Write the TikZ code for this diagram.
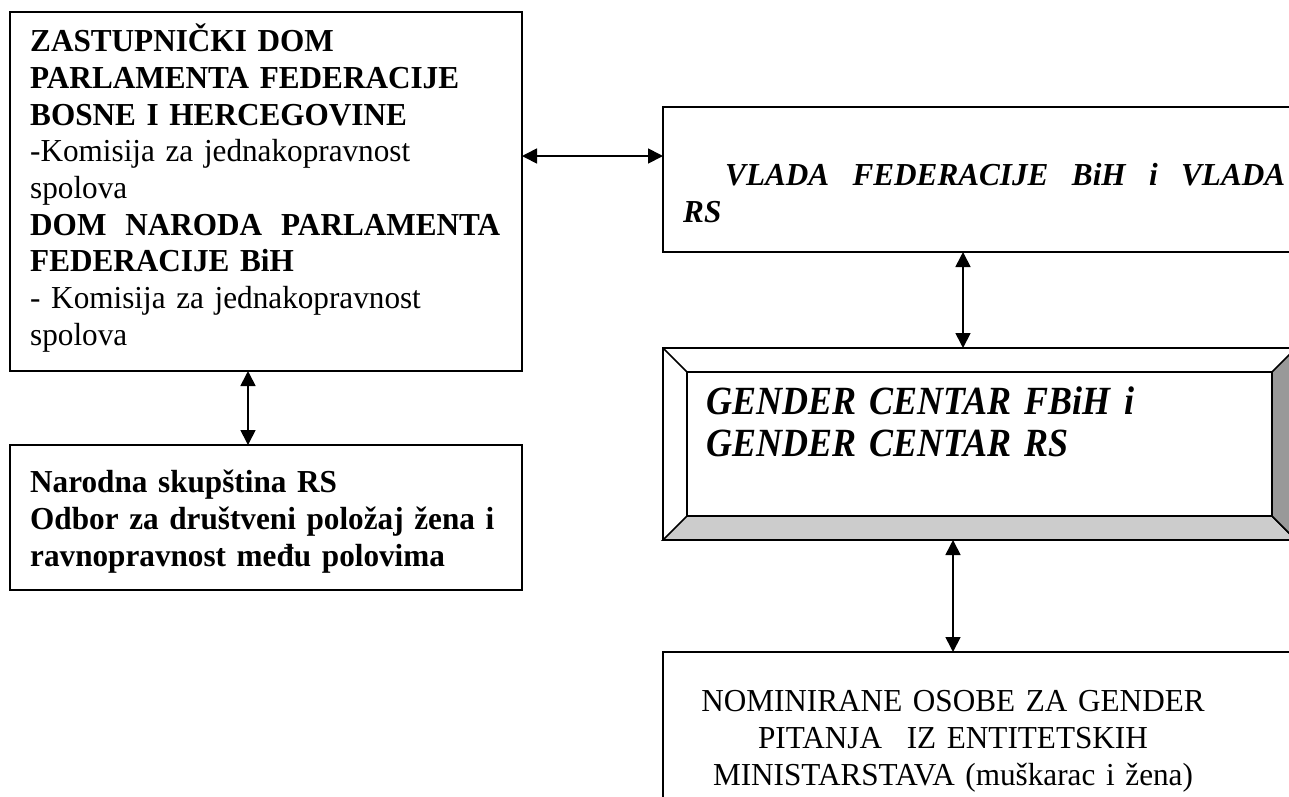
\documentclass[tikz,border=0pt]{standalone}
\usepackage{fontspec}
\setmainfont{Liberation Serif}[FakeStretch=0.975]
\newfontfamily\gfont{Liberation Serif}[FakeStretch=0.9]
\usetikzlibrary{arrows.meta}
\begin{document}
\begin{tikzpicture}[x=1pt,y=-1pt,
  box/.style={draw=black,line width=1.7pt,fill=white,inner sep=0pt,outer sep=0pt,anchor=north west},
  txt/.style={inner sep=0pt,anchor=base west,align=left,font=\fontsize{32}{36.7}\selectfont},
  link/.style={line width=1.7pt,{Triangle[length=15pt,width=15pt]}-{Triangle[length=15pt,width=15pt]}}]
\useasboundingbox (0,0) rectangle (1289,796);
\clip (0,0) rectangle (1289,796);
% left column
\node[box,minimum width=512,minimum height=359] (A) at (10,12) {};
\node[txt,text width=490] (At) at (30,51.7) {\textbf{ZASTUPNIČKI DOM}\\
\textbf{PARLAMENTA FEDERACIJE}\\
\textbf{BOSNE I HERCEGOVINE}\\
-Komisija za jednakopravnost\\
spolova\\
\leavevmode\hbox to 470pt{\textbf{DOM}\hfill\textbf{NARODA}\hfill\textbf{PARLAMENTA}}\\
\textbf{FEDERACIJE BiH}\\
- Komisija za jednakopravnost\\
spolova};
\node[box,minimum width=512,minimum height=145] (B) at (10,445) {};
\node[txt,text width=490,font=\bfseries\fontsize{32}{37}\selectfont] (Bt) at (30,492) {Narodna skupština RS\\
Odbor za društveni položaj žena i\\
ravnopravnost među polovima};
% right column
\node[box,minimum width=660,minimum height=145] (C) at (663,107) {};
\node[txt,text width=620,font=\bfseries\itshape\fontsize{32}{37}\selectfont] (Ct) at (683,185) {\leavevmode\hbox to 602pt{\hspace{42pt}VLADA\hfill FEDERACIJE\hfill BiH\hfill i\hfill VLADA}\\
RS};
% bevelled box
\coordinate (o1) at (663,348);
\coordinate (o2) at (1296,348);
\coordinate (o3) at (1296,540);
\coordinate (o4) at (663,540);
\coordinate (i1) at (687,372);
\coordinate (i2) at (1272,372);
\coordinate (i3) at (1272,516);
\coordinate (i4) at (687,516);
\node[inner sep=0pt,outer sep=0pt,minimum width=633,minimum height=192,anchor=north west] (D) at (663,348) {};
\filldraw[fill=white,line width=1.7pt,line join=miter] (o1) -- (o2) -- (o3) -- (o4) -- cycle;
\filldraw[fill=black!20,line width=1.7pt] (o4) -- (i4) -- (i3) -- (o3) -- cycle;
\filldraw[fill=black!40,line width=1.7pt] (i2) -- (o2) -- (o3) -- (i3) -- cycle;
\draw[line width=1.7pt] (i1) rectangle (i3);
\draw[line width=1.7pt] (o1) -- (i1);
\node[txt,text width=560,font=\gfont\bfseries\itshape\fontsize{40}{41.5}\selectfont] (Dt) at (706,414.7) {GENDER CENTAR FBiH i\\
GENDER CENTAR RS};
\node[box,minimum width=660,minimum height=170] (E) at (663,652) {};
\node[inner sep=0pt,anchor=base,text width=620,align=center,font=\fontsize{32}{37}\selectfont] (Et) at (953,711) {NOMINIRANE OSOBE ZA GENDER\\
PITANJA\hspace{14pt} IZ ENTITETSKIH\\
MINISTARSTAVA (muškarac i žena)};
% connectors
\draw[link] (A.south -| 248,0) -- (B.north -| 248,0);
\draw[link] (A.east |- 0,156) -- (C.west |- 0,156);
\draw[link] (C.south -| 963,0) -- (D.north -| 963,0);
\draw[link] (D.south -| 953,0) -- (E.north -| 953,0);
\end{tikzpicture}
\end{document}
